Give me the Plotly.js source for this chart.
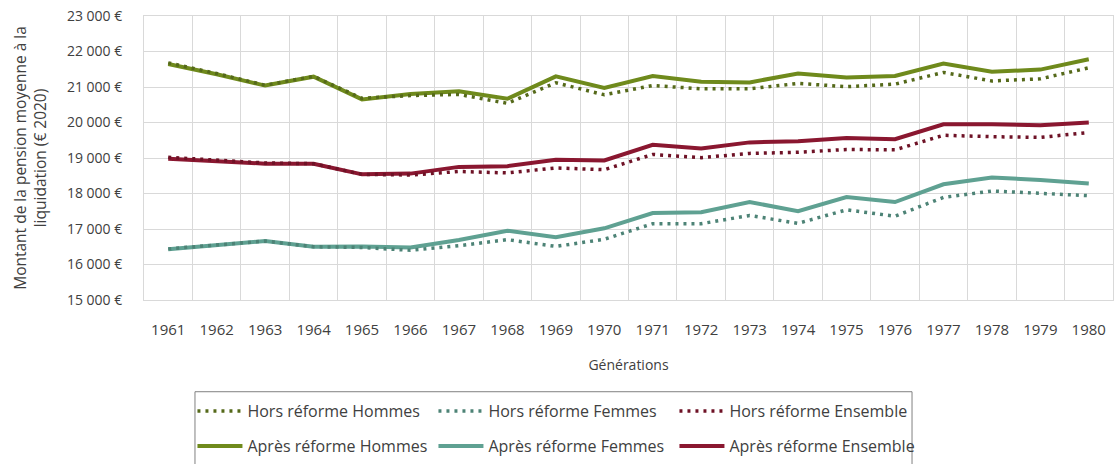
<!DOCTYPE html>
<html>
<head>
<meta charset="utf-8">
<script src="https://cdn.plot.ly/plotly-3.0.1.min.js"></script>
<style>html,body{margin:0;padding:0;background:#fff;}#chart{width:1114px;height:464px;}</style>
</head>
<body>
<div id="chart"></div>
<script>
const years = ["1961","1962","1963","1964","1965","1966","1967","1968","1969","1970",
               "1971","1972","1973","1974","1975","1976","1977","1978","1979","1980"];

const apresHommes   = [21650,21360,21040,21290,20650,20800,20880,20670,21300,20970,21310,21150,21130,21380,21270,21310,21660,21430,21490,21780];
const horsHommes    = [21680,21380,21050,21300,20680,20760,20790,20540,21120,20780,21040,20950,20950,21100,21010,21080,21410,21170,21230,21540];
const apresFemmes   = [16430,16540,16660,16500,16510,16480,16690,16950,16770,17020,17450,17470,17760,17500,17900,17760,18260,18450,18380,18280];
const horsFemmes    = [16440,16540,16660,16500,16480,16400,16530,16700,16510,16710,17150,17150,17380,17160,17540,17360,17890,18070,18010,17940];
const apresEnsemble = [18980,18910,18840,18840,18540,18560,18750,18770,18950,18930,19370,19270,19440,19470,19560,19530,19950,19950,19920,20000];
const horsEnsemble  = [19020,18930,18860,18840,18540,18520,18620,18580,18720,18670,19100,19010,19130,19160,19240,19230,19640,19600,19580,19720];

const GREEN = "#6f8a1c", TEAL = "#5fa192", RED = "#8a1730";
const GREEN_D = "#55691a", TEAL_D = "#4d8376", RED_D = "#6e1226";
const FONT = "Open Sans, Noto Sans, sans-serif";
const DOT = "3px,5px";

function solid(name, y, color) {
  return {x: years, y: y, name: name, type: "scatter", mode: "lines",
          line: {color: color, width: 4}, legend: "legend2", hoverinfo: "x+y+name"};
}
function dotted(name, y, color) {
  return {x: years, y: y, name: name, type: "scatter", mode: "lines",
          line: {color: color, width: 3.5, dash: DOT}, legend: "legend", hoverinfo: "x+y+name"};
}

const data = [
  solid("Après réforme Hommes", apresHommes, GREEN),
  solid("Après réforme Femmes", apresFemmes, TEAL),
  solid("Après réforme Ensemble", apresEnsemble, RED),
  dotted("Hors réforme Hommes", horsHommes, GREEN_D),
  dotted("Hors réforme Femmes", horsFemmes, TEAL_D),
  dotted("Hors réforme Ensemble", horsEnsemble, RED_D)
];

const legendCommon = {
  orientation: "h", xanchor: "left", yanchor: "top", x: 0.05,
  font: {family: FONT, size: 16, color: "#404040"},
  bgcolor: "rgba(0,0,0,0)", borderwidth: 0,
  itemwidth: 45, entrywidth: 181, entrywidthmode: "pixels", tracegroupgap: 0
};

const layout = {
  width: 1114, height: 464,
  margin: {l: 144, r: 1, t: 16, b: 160, pad: 0},
  paper_bgcolor: "#ffffff", plot_bgcolor: "#ffffff",
  font: {family: FONT, size: 15, color: "#404040"},
  showlegend: true,
  xaxis: {
    type: "category", tickson: "boundaries", ticks: "",
    range: [-0.5, 19.5],
    showgrid: true, gridcolor: "#d9d9d9", gridwidth: 1,
    showline: true, linecolor: "#d9d9d9", linewidth: 1, mirror: true,
    tickfont: {family: FONT, size: 15, color: "#404040"},
    ticklabelstandoff: 16,
    title: {text: "Générations", font: {family: FONT, size: 14, color: "#404040"}, standoff: 22},
    automargin: false, fixedrange: true
  },
  yaxis: {
    range: [15000, 23000], dtick: 1000, tick0: 15000,
    showgrid: true, gridcolor: "#d9d9d9", gridwidth: 1, zeroline: false,
    showline: true, linecolor: "#d9d9d9", linewidth: 1, mirror: true,
    ticks: "", separatethousands: true, tickformat: ",.0f", ticksuffix: " €",
    tickfont: {family: FONT, size: 14, color: "#404040"},
    ticklabelstandoff: 18,
    title: {text: "Montant de la pension moyenne à la<br>liquidation (€ 2020)",
            font: {family: FONT, size: 15.5, color: "#404040"}, standoff: 16},
    automargin: false, fixedrange: true
  },
  separators: ", ",
  legend: Object.assign({}, legendCommon, {y: -0.331}),
  legend2: Object.assign({}, legendCommon, {y: -0.455}),
  shapes: [{
    type: "rect", xref: "paper", yref: "paper",
    x0: 0.0526, x1: 0.7926, y0: -0.323, y1: -0.60,
    line: {color: "#808080", width: 1}, fillcolor: "rgba(0,0,0,0)", layer: "below"
  }]
};

Plotly.newPlot("chart", data, layout, {displayModeBar: false, staticPlot: true});
</script>
</body>
</html>
